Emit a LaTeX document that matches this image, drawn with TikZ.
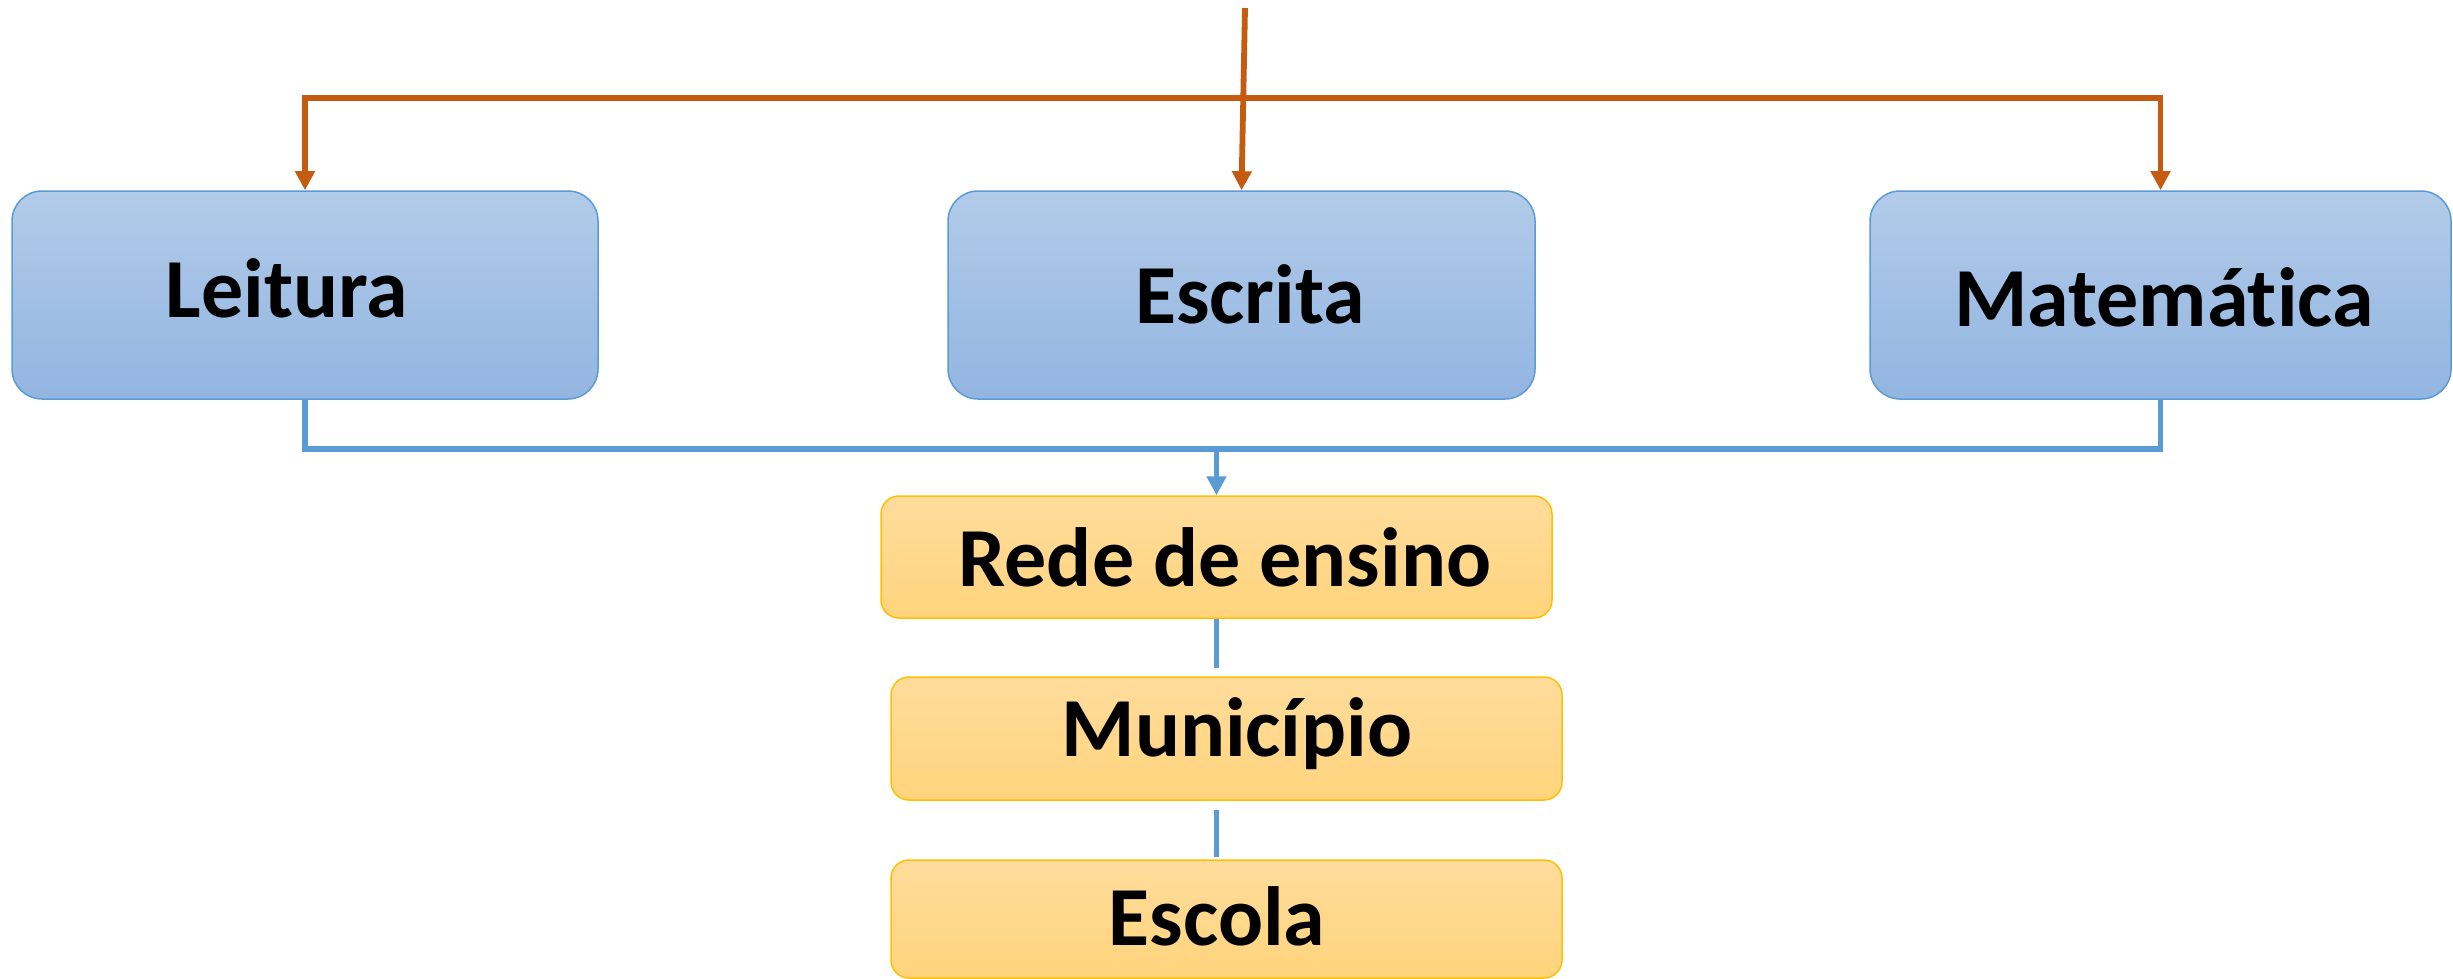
\documentclass[tikz,border=0pt]{standalone}
\usepackage{fontspec}
\setmainfont{Carlito}[Ligatures={NoCommon,NoRare,NoContextual}]
\usetikzlibrary{arrows.meta,calc}
\definecolor{orangeln}{HTML}{C55A11}
\definecolor{blueln}{HTML}{5B9BD5}
\definecolor{bluetop}{HTML}{B2CBE9}
\definecolor{bluebot}{HTML}{92B5E1}
\definecolor{goldtop}{HTML}{FFDC9C}
\definecolor{goldbot}{HTML}{FFD47C}
\definecolor{goldln}{HTML}{FFC000}
\tikzset{
  subjbox/.style={draw=blueln, line width=1.5pt, rounded corners=30pt,
    top color=bluetop, bottom color=bluebot, inner sep=0pt},
  levelbox/.style={draw=goldln, line width=1.5pt, rounded corners=18pt,
    top color=goldtop, bottom color=goldbot, inner sep=0pt},
  lbl/.style={anchor=base, inner sep=0pt, font=\bfseries\fontsize{84}{100}\selectfont},
  oline/.style={draw=orangeln, line width=5.8pt},
  bline/.style={draw=blueln, line width=5.8pt},
  mytip/.tip={Triangle[length=19pt,width=19pt]}
}
\begin{document}
\begin{tikzpicture}[x=1pt,y=-1pt]
\useasboundingbox (0,0) rectangle (2453,979);
% subject boxes
\node[subjbox, minimum width=586pt, minimum height=208pt] (leit) at (305,295) {};
\node[subjbox, minimum width=587pt, minimum height=208pt] (escr) at (1241.5,295) {};
\node[subjbox, minimum width=581pt, minimum height=208pt] (mate) at (2160.5,295) {};
% level boxes
\node[levelbox, minimum width=671pt, minimum height=122pt] (rede) at (1216.5,557) {};
\node[levelbox, minimum width=671pt, minimum height=123pt] (muni) at (1226.5,738.5) {};
\node[levelbox, minimum width=671pt, minimum height=118pt] (esco) at (1226.5,919) {};
% labels
\node[lbl] (tleit) at (287,317) {Leitura};
\node[lbl] (tescr) at (1250,323) {Escrita};
\node[lbl] (tmate) at (2164,326) {Matemática};
\node[lbl] (trede) at (1225,586) {Rede de ensino};
\node[lbl] (tmuni) at (1237,756) {Município};
\node[lbl] (tesco) at (1217,945) {Escola};
% orange connectors
\coordinate (topc) at (1245,8);
\draw[oline, -{mytip}] (topc) -- (escr.north);
\draw[oline, {mytip}-{mytip}] (leit.north) -- ++(0,-92) -| (mate.north);
% blue connectors
\draw[bline] (leit.south) -- ++(0,49) -| (mate.south);
\coordinate (bj) at (1216.5,448);
\draw[bline, -{mytip}] (bj) -- (rede.north);
\draw[bline] (rede.south) -- ++(0,49);
\coordinate (c2a) at (1216.5,810);
\coordinate (c2b) at (1216.5,857);
\draw[bline] (c2a) -- (c2b);
\end{tikzpicture}
\end{document}
